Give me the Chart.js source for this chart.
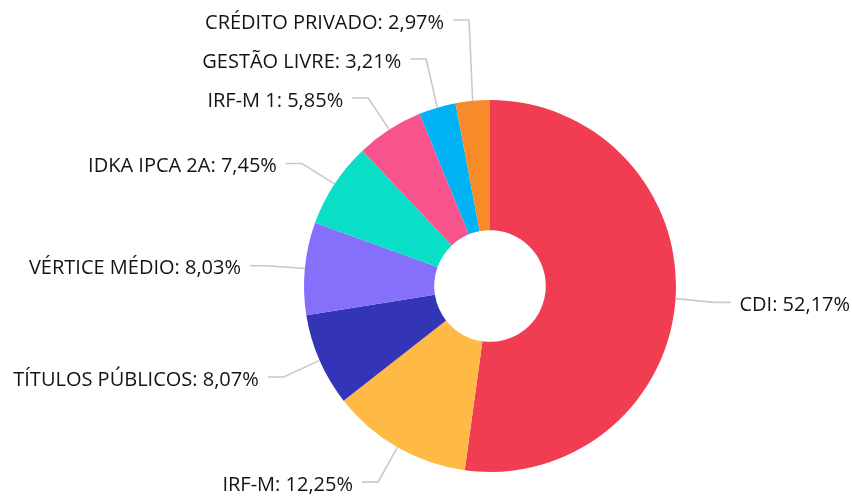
<!DOCTYPE html>
<html>
<head>
<meta charset="utf-8">
<script src="https://cdn.jsdelivr.net/npm/chart.js@4"></script>
<style>
html,body{margin:0;padding:0;background:#fff;}
#wrap{width:852px;height:496px;position:relative;}
</style>
</head>
<body>
<div id="wrap"><canvas id="c" width="852" height="496"></canvas></div>
<script>
const categories = ["CDI", "IRF-M", "TÍTULOS PÚBLICOS", "VÉRTICE MÉDIO", "IDKA IPCA 2A", "IRF-M 1", "GESTÃO LIVRE", "CRÉDITO PRIVADO"];
const values = [52.17, 12.25, 8.07, 8.03, 7.45, 5.85, 3.21, 2.97];
const colors = ["#F03D52", "#FFB945", "#3434B6", "#8470FB", "#08DFC6", "#F7548D", "#00B1F4", "#F78B29"];

function fmt(v){ return v.toFixed(2).replace('.', ','); }

const labelPlugin = {
  id: 'outLabels',
  afterDatasetsDraw(chart){
    const ctx = chart.ctx;
    const meta = chart.getDatasetMeta(0);
    const dist = 39, gap = 39, seg = 16, pad = 9;
    const items = meta.data.map((arc, i) => {
      const p = arc.getProps(['x','y','startAngle','endAngle','outerRadius'], true);
      const mid = (p.startAngle + p.endAngle) / 2;
      const R = p.outerRadius + dist;
      return {
        i, mid,
        ex: p.x + p.outerRadius * Math.cos(mid),
        ey: p.y + p.outerRadius * Math.sin(mid),
        nx: p.x + R * Math.cos(mid),
        ny: p.y + R * Math.sin(mid),
        right: Math.cos(mid) >= 0
      };
    });
    [true, false].forEach(side => {
      const s = items.filter(it => it.right === side).sort((a,b) => a.ny - b.ny);
      s.forEach(it => it.y = it.ny);
      for (let k = s.length - 2; k >= 0; k--) {
        s[k].y = Math.min(s[k].y, s[k+1].y - gap);
      }
      for (let k = 0; k < s.length; k++) {
        const minY = k === 0 ? 19 : s[k-1].y + gap;
        if (s[k].y < minY) s[k].y = minY;
      }
    });
    ctx.save();
    ctx.font = '20px "Open Sans"';
    ctx.textBaseline = 'middle';
    items.forEach(it => {
      const dir = it.right ? 1 : -1;
      ctx.strokeStyle = '#c9c9c9';
      ctx.lineWidth = 1.6;
      ctx.beginPath();
      ctx.moveTo(it.ex, it.ey);
      ctx.lineTo(it.nx, it.y + 1);
      ctx.lineTo(it.nx + dir * seg, it.y + 1);
      ctx.stroke();
      ctx.fillStyle = '#141414';
      ctx.textAlign = it.right ? 'left' : 'right';
      ctx.fillText(categories[it.i] + ': ' + fmt(values[it.i]) + '%', it.nx + dir * (seg + pad), it.y + 4);
    });
    ctx.restore();
  }
};

new Chart(document.getElementById('c'), {
  type: 'doughnut',
  data: {
    labels: categories,
    datasets: [{
      data: values,
      backgroundColor: colors,
      borderWidth: 0,
      hoverOffset: 0
    }]
  },
  options: {
    responsive: false,
    animation: false,
    cutout: '30%',
    layout: { padding: { top: 100, bottom: 24, left: 304, right: 176 } },
    plugins: { legend: { display: false }, tooltip: { enabled: false } }
  },
  plugins: [labelPlugin]
});
</script>
</body>
</html>
